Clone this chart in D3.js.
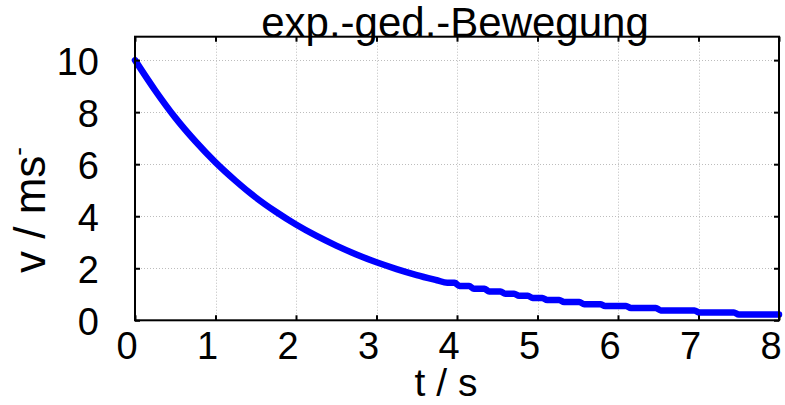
<!DOCTYPE html>
<html>
<head>
<meta charset="utf-8">
<script src="https://cdn.jsdelivr.net/npm/d3@7"></script>
<style>
  body { margin: 0; background: #fff; }
  text { font-family: "Liberation Sans", Arial, sans-serif; fill: #000; }
</style>
</head>
<body>
<svg id="chart" width="785" height="405"></svg>
<script>
// values
const title = "exp.-ged.-Bewegung";
const xTicks = [0, 1, 2, 3, 4, 5, 6, 7, 8];
const yTicks = [0, 2, 4, 6, 8, 10];

// smooth part of the curve
const tHead = [0, 0.25, 0.5, 0.75, 1, 1.25, 1.5, 1.75, 2, 2.25, 2.5, 2.75, 3, 3.25, 3.5, 3.75];
const vHead = [10.0, 8.84, 7.79, 6.88, 6.07, 5.36, 4.72, 4.17, 3.68, 3.25, 2.87, 2.53, 2.23, 1.97, 1.74, 1.54];

// stepped tail (start of each flat piece, and its level)
const tTail = [3.85, 4.0, 4.18, 4.37, 4.57, 4.74, 4.91, 5.09, 5.3, 5.55, 5.81, 6.13, 6.5, 6.98, 7.47, 8.0];
const vTail = [1.44, 1.32, 1.21, 1.11, 1.02, 0.94, 0.86, 0.78, 0.70, 0.62, 0.55, 0.47, 0.38, 0.30, 0.22];

const svg = d3.select("#chart");
const W = 785, H = 405;
const m = { left: 135, top: 36.7, right: 6, bottom: 84.7 };

const x = d3.scaleLinear().domain([0, 8]).range([m.left, W - m.right]);
const y = d3.scaleLinear().domain([0, 10.9]).range([H - m.bottom, m.top]);

svg.append("rect").attr("width", W).attr("height", H).attr("fill", "#fff");

// dotted grid
const grid = svg.append("g").attr("stroke", "#bdbdbd").attr("stroke-width", 1).attr("stroke-dasharray", "1,2");
grid.selectAll(".gx").data(xTicks.slice(1, -1)).join("line")
  .attr("x1", d => Math.round(x(d)) + 0.5).attr("x2", d => Math.round(x(d)) + 0.5)
  .attr("y1", y.range()[1]).attr("y2", y.range()[0]);
grid.selectAll(".gy").data(yTicks.slice(1)).join("line")
  .attr("y1", d => Math.round(y(d)) + 0.5).attr("y2", d => Math.round(y(d)) + 0.5)
  .attr("x1", x.range()[0]).attr("x2", x.range()[1]);

// curve points
let pts = tHead.map((t, i) => [t, vHead[i]]);
for (let i = 0; i < vTail.length; i++) {
  pts.push([tTail[i] + 0.03, vTail[i]]);
  pts.push([tTail[i + 1] - 0.03, vTail[i]]);
}
pts[pts.length - 1][0] = 8;

const line = d3.line().curve(d3.curveMonotoneX).x(d => x(d[0])).y(d => y(d[1]));
svg.append("path").datum(pts)
  .attr("d", line)
  .attr("fill", "none")
  .attr("stroke", "#0000ff")
  .attr("stroke-width", 6.5)
  .attr("stroke-linejoin", "round")
  .attr("stroke-linecap", "round");

// axes, ticks inward on all four sides
const tk = 5;
svg.append("g").attr("transform", `translate(0,${y(0)})`)
  .call(d3.axisBottom(x).tickValues(xTicks).tickSize(-tk).tickFormat(""))
  .call(g => g.select(".domain").remove());
svg.append("g").attr("transform", `translate(0,${m.top})`)
  .call(d3.axisTop(x).tickValues(xTicks).tickSize(-tk).tickFormat(""))
  .call(g => g.select(".domain").remove());
svg.append("g").attr("transform", `translate(${m.left},0)`)
  .call(d3.axisLeft(y).tickValues(yTicks).tickSize(-tk).tickFormat(""))
  .call(g => g.select(".domain").remove());
svg.append("g").attr("transform", `translate(${x(8)},0)`)
  .call(d3.axisRight(y).tickValues(yTicks).tickSize(-tk).tickFormat(""))
  .call(g => g.select(".domain").remove());
svg.selectAll(".tick line").attr("stroke", "#000").attr("stroke-width", 2);

svg.append("rect")
  .attr("x", x(0)).attr("y", m.top)
  .attr("width", x(8) - x(0)).attr("height", y(0) - m.top)
  .attr("fill", "none").attr("stroke", "#000").attr("stroke-width", 2);

// tick labels
svg.append("g").selectAll("text").data(xTicks).join("text")
  .attr("x", d => x(d) - 8).attr("y", 359)
  .attr("text-anchor", "middle").attr("font-size", 38)
  .text(d => d);
svg.append("g").selectAll("text").data(yTicks).join("text")
  .attr("x", 99).attr("y", d => y(d) + 15)
  .attr("text-anchor", "end").attr("font-size", 38)
  .text(d => d);

// title and axis labels
svg.append("text").attr("x", 455).attr("y", 37)
  .attr("text-anchor", "middle").attr("font-size", 42).text(title);
svg.append("text").attr("x", 446).attr("y", 396)
  .attr("text-anchor", "middle").attr("font-size", 39).text("t / s");
const yl = svg.append("text").attr("transform", "translate(45,210) rotate(-90)")
  .attr("text-anchor", "middle").attr("font-size", 44);
yl.append("tspan").text("v / ms");
yl.append("tspan").attr("font-size", 26).attr("dy", -18).text("-");
</script>
</body>
</html>
